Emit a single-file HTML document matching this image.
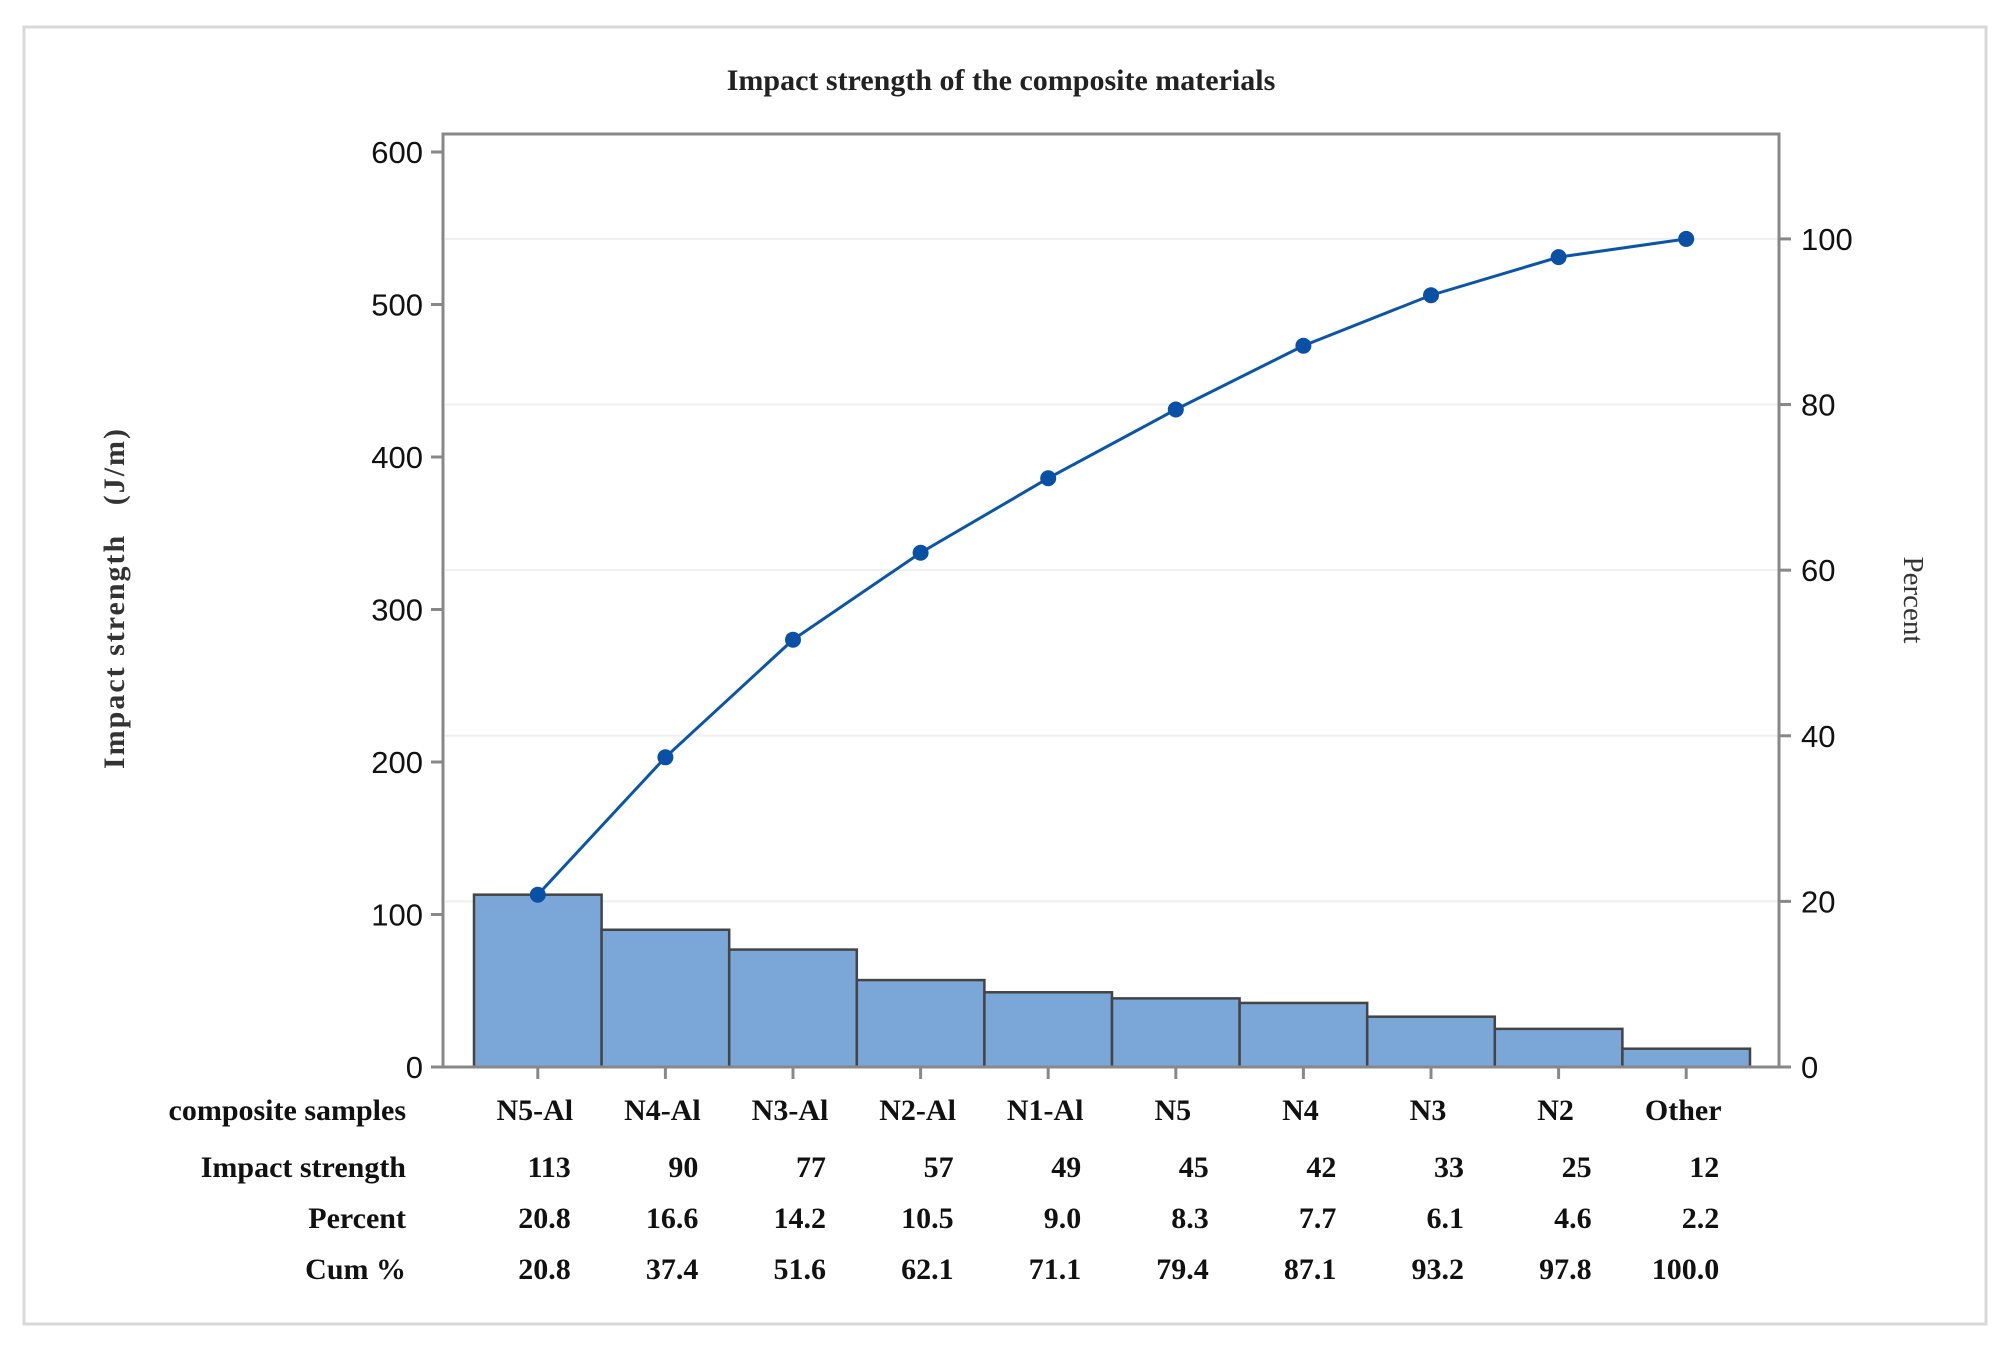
<!DOCTYPE html>
<html><head><meta charset="utf-8"><style>
html,body{margin:0;padding:0;background:#fff;}
svg{display:block;}
.serif{font-family:"Liberation Serif",serif;}
.sans{font-family:"Liberation Sans",sans-serif;}
</style></head><body>
<svg id="chart" width="2007" height="1345" viewBox="0 0 2007 1345">
<rect x="24" y="27" width="1962" height="1297" fill="#fff" stroke="#d8d8d8" stroke-width="3"/>
<text x="1001" y="90" text-anchor="middle" class="serif" font-weight="bold" font-size="30" fill="#222">Impact strength of the composite materials</text>
<text transform="translate(124,598) rotate(-90)" text-anchor="middle" class="serif" font-weight="bold" font-size="30" letter-spacing="2" fill="#333" style="white-space:pre">Impact strength   (J/m)</text>
<text transform="translate(1904,600) rotate(90)" text-anchor="middle" class="serif" font-size="29" fill="#333">Percent</text>
<g id="grid"></g><g id="bars"></g><g id="axes"></g><g id="line"></g><g id="table"></g>
</svg>
<script>
const categories=["N5-Al","N4-Al","N3-Al","N2-Al","N1-Al","N5","N4","N3","N2","Other"];
const impact=[113,90,77,57,49,45,42,33,25,12];
const percent=["20.8","16.6","14.2","10.5","9.0","8.3","7.7","6.1","4.6","2.2"];
const cumPct=["20.8","37.4","51.6","62.1","71.1","79.4","87.1","93.2","97.8","100.0"];
const leftTicks=[0,100,200,300,400,500,600];
const rightTicks=[0,20,40,60,80,100];
const rowLabels=["composite samples","Impact strength","Percent","Cum %"];

const NS="http://www.w3.org/2000/svg";
const L=443,R=1779,T=134,B=1067,barL=474,barR=1750;
const total=impact.reduce((a,b)=>a+b,0);
const yL=v=>B-v*1.525;
const yP=p=>B-p/100*total*1.525;
const step=(barR-barL)/categories.length;
const xC=i=>barL+step*(i+0.5);
function mk(tag,attrs,parent){const e=document.createElementNS(NS,tag);for(const k in attrs)e.setAttribute(k,attrs[k]);document.getElementById(parent).appendChild(e);return e;}

rightTicks.forEach(p=>{if(p>0){const g=mk('line',{x1:L+2,x2:R,y1:yP(p),y2:yP(p),stroke:'#efefef','stroke-width':2},'grid');

}});

impact.forEach((v,i)=>{const r=mk('rect',{x:barL+step*i,y:yL(v),width:step,height:B-yL(v),fill:'#7ba6d8',stroke:'#444','stroke-width':2.5},'bars');

});

const fr=mk('path',{d:`M${L},${B} L${L},${T} L${R},${T} L${R},${B}`,fill:'none',stroke:'#888','stroke-width':3},'axes');


const xa=mk('line',{x1:L-12,x2:R,y1:B,y2:B,stroke:'#888','stroke-width':3},'axes');


leftTicks.forEach(v=>{mk('line',{x1:L-12,x2:L,y1:yL(v),y2:yL(v),stroke:'#888','stroke-width':3},'axes');
const t=mk('text',{x:L-20,y:yL(v)+11,'text-anchor':'end',class:'sans','font-size':31,fill:'#111'},'axes');t.textContent=v;

});
rightTicks.forEach(p=>{mk('line',{x1:R,x2:R+12,y1:yP(p),y2:yP(p),stroke:'#888','stroke-width':3},'axes');
const t=mk('text',{x:R+22,y:yP(p)+11,'text-anchor':'start',class:'sans','font-size':31,fill:'#111'},'axes');t.textContent=p;

});
categories.forEach((c,i)=>{mk('line',{x1:xC(i),x2:xC(i),y1:B,y2:B+12,stroke:'#888','stroke-width':3},'axes');});

const pts=cumPct.map((p,i)=>[xC(i),yP(parseFloat(p))]);
const pl=mk('polyline',{points:pts.map(p=>p.join(',')).join(' '),fill:'none',stroke:'#0b55a8','stroke-width':3},'line');


pts.forEach((p,i)=>{const c=mk('circle',{cx:p[0],cy:p[1],r:8,fill:'#0a50a4'},'line');

});

const rowsY=[1120,1177,1228,1279];
rowLabels.forEach((lab,r)=>{const t=mk('text',{x:406,y:rowsY[r],'text-anchor':'end',class:'serif','font-weight':'bold','font-size':30,fill:'#111'},'table');t.textContent=lab;

});
const rows=[categories,impact,percent,cumPct];
rows.forEach((arr,r)=>{arr.forEach((v,i)=>{const t=mk('text',{x:r===0?xC(i)-3:xC(i)+33,y:rowsY[r],'text-anchor':r===0?'middle':'end',class:'serif','font-weight':'bold','font-size':30,fill:'#111'},'table');t.textContent=v;

});});
</script>
</body></html>
